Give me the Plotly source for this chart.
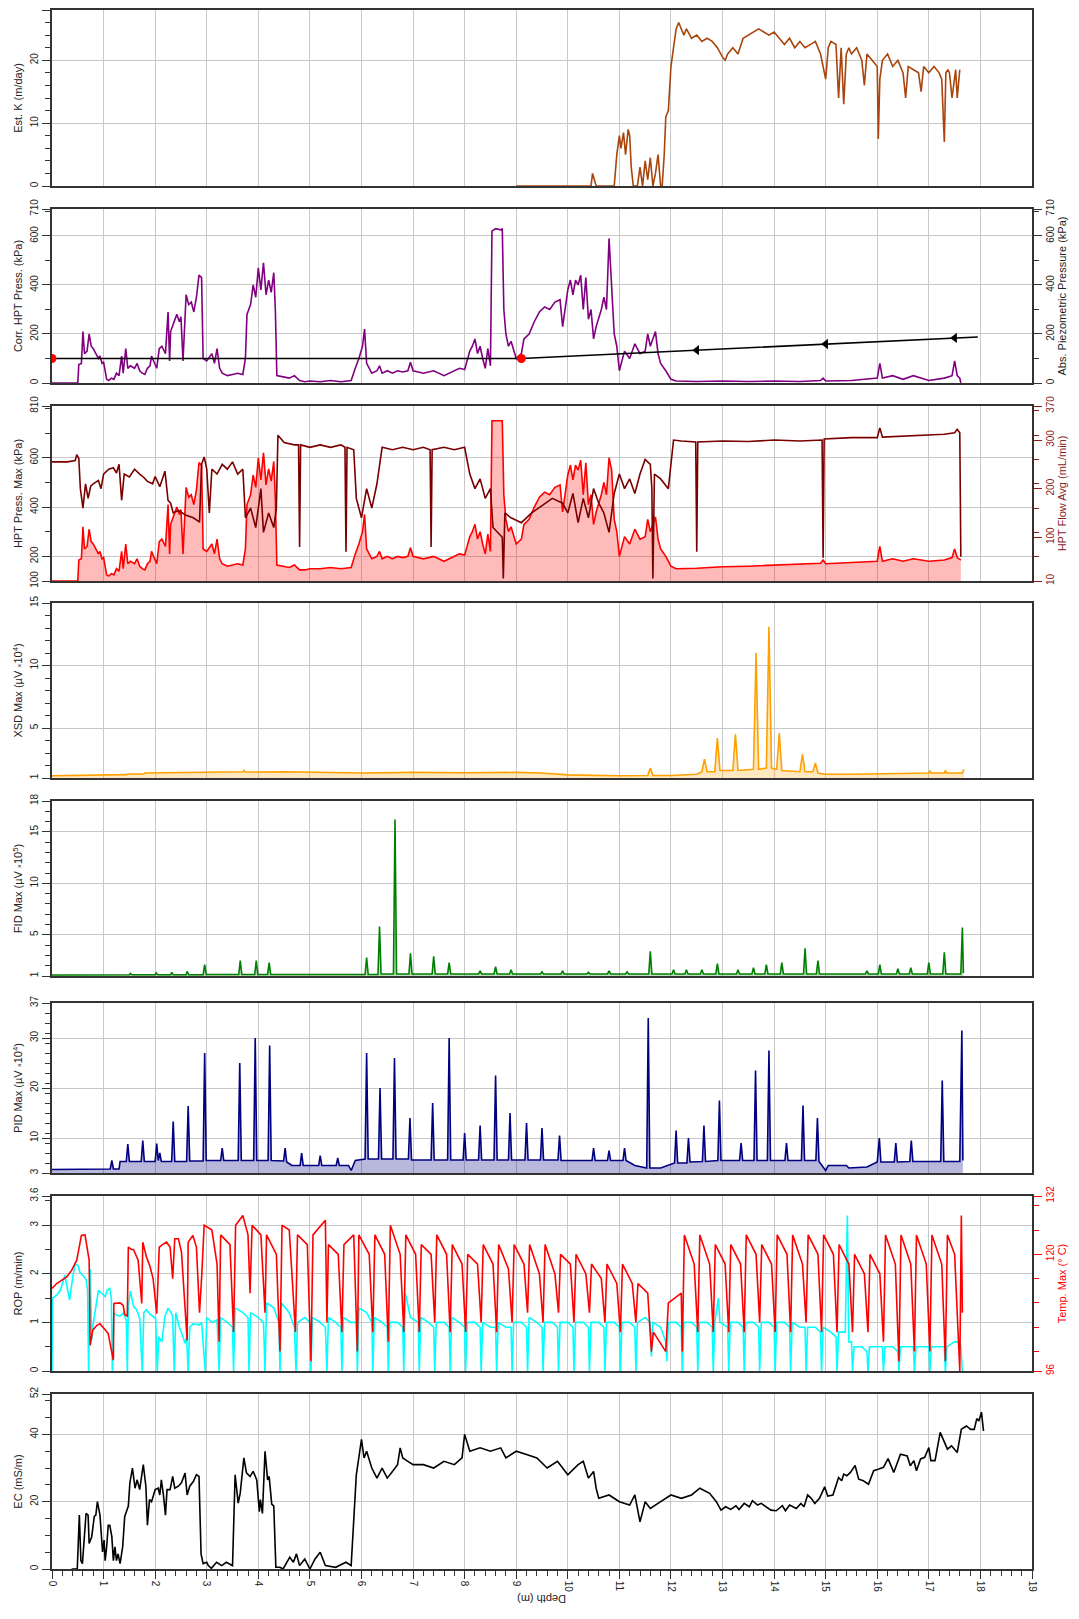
import plotly.graph_objects as go

# ---------------- DATA ----------------
# Est. K (m/day)
K_depth = [9.0, 10.45, 10.48, 10.52, 10.55, 10.9, 10.95, 11.0, 11.03, 11.08,
           11.12, 11.17, 11.2, 11.23, 11.27, 11.35, 11.4, 11.45, 11.5, 11.55,
           11.6, 11.65, 11.7, 11.75, 11.8, 11.83, 11.87, 11.9, 11.95, 12.0,
           12.05, 12.1, 12.15, 12.2, 12.25, 12.3, 12.4, 12.5, 12.6, 12.7,
           12.8, 12.9, 13.0, 13.05, 13.1, 13.2, 13.3, 13.4, 13.5, 13.6,
           13.7, 13.8, 13.9, 14.0, 14.1, 14.2, 14.3, 14.4, 14.5, 14.6,
           14.7, 14.8, 14.9, 14.95, 15.0, 15.05, 15.1, 15.2, 15.25, 15.3,
           15.35, 15.4, 15.45, 15.5, 15.6, 15.7, 15.75, 15.8, 15.9, 16.0,
           16.02, 16.05, 16.1, 16.2, 16.3, 16.4, 16.5, 16.55, 16.6, 16.7,
           16.8, 16.85, 16.9, 17.0, 17.1, 17.2, 17.25, 17.3, 17.33, 17.37,
           17.4, 17.45, 17.5, 17.52, 17.55, 17.6]
K_val = [0, 0, 2, 1, 0, 0, 5, 8, 6, 8.5,
         5, 9, 8, 3, 0, 0, 3, 0, 4, 1,
         4.5, 0, 2, 5, 0, 0, 5, 11, 12, 19,
         22, 25, 26, 25, 24, 25, 23.5, 24, 23, 23.5,
         23, 22, 20.5, 20, 21, 22, 21, 23.5, 24, 24.5,
         25, 24.5, 24, 24.5, 23.5, 22.5, 23.5, 22, 23, 22,
         22.5, 23, 21, 19, 17, 22, 23, 22.5, 14, 22,
         13, 21, 22, 21, 22, 20, 16, 21, 20, 19,
         7.5, 17, 20, 21, 19, 20, 18, 14, 19, 18.5,
         18, 15, 19, 18, 19, 18, 17, 7, 18, 18.5,
         18, 14, 18, 18.5, 14, 18.5]

# Corrected HPT pressure (kPa) and HPT pressure max (kPa), same depth samples
HPT_depth = [0, 0.5, 0.52, 0.57, 0.6, 0.63, 0.68, 0.72, 0.76, 0.8,
             0.85, 0.9, 0.93, 0.97, 1.0, 1.03, 1.06, 1.1, 1.15, 1.2,
             1.25, 1.3, 1.35, 1.38, 1.43, 1.47, 1.52, 1.6, 1.65, 1.7,
             1.75, 1.8, 1.85, 1.9, 1.93, 1.97, 2.03, 2.08, 2.13, 2.2,
             2.25, 2.28, 2.3, 2.35, 2.42, 2.47, 2.5, 2.54, 2.6, 2.65,
             2.7, 2.75, 2.8, 2.85, 2.9, 2.93, 3.0, 3.1, 3.15, 3.2,
             3.25, 3.3, 3.4, 3.5, 3.6, 3.7, 3.75, 3.78, 3.85, 3.9,
             3.95, 4.0, 4.05, 4.1, 4.15, 4.2, 4.25, 4.3, 4.33, 4.36,
             4.5, 4.6, 4.7, 4.8, 4.9, 5.0, 5.2, 5.4, 5.6, 5.8,
             5.88, 5.95, 6.02, 6.06, 6.1, 6.2, 6.3, 6.35, 6.4, 6.5,
             6.6, 6.7, 6.8, 6.9, 6.95, 7.0, 7.2, 7.4, 7.6, 7.8,
             7.9, 8.0, 8.05, 8.1, 8.15, 8.2, 8.25, 8.3, 8.35, 8.4,
             8.45, 8.5, 8.53, 8.6, 8.7, 8.73, 8.76, 8.8, 8.85, 8.9,
             9.0, 9.05, 9.1, 9.15, 9.25, 9.35, 9.45, 9.55, 9.65, 9.75,
             9.85, 9.9, 9.95, 10.0, 10.05, 10.1, 10.15, 10.2, 10.25, 10.3,
             10.35, 10.4, 10.45, 10.5, 10.55, 10.65, 10.7, 10.75, 10.8, 10.85,
             10.9, 10.95, 11.0, 11.1, 11.2, 11.3, 11.4, 11.5, 11.55, 11.6,
             11.7, 11.75, 11.8, 11.9, 12.0, 12.1, 12.5, 13.0, 13.5, 14.0,
             14.5, 14.9, 14.95, 15.0, 15.5, 16.0, 16.03, 16.05, 16.1, 16.3,
             16.5, 16.7, 17.0, 17.3, 17.45, 17.5, 17.55, 17.6, 17.62]
CORR_val = [0, 0, 75, 80, 210, 120, 130, 200, 150, 140,
            120, 100, 110, 80, 85, 40, 15, 10, 20, 15,
            40, 30, 110, 40, 140, 60, 70, 60, 80, 50,
            40, 35, 60, 70, 110, 90, 60, 140, 150, 120,
            290, 90, 210, 240, 280, 250, 270, 90, 360, 320,
            330, 290, 350, 440, 430, 100, 90, 120, 80, 140,
            60, 40, 30, 35, 40, 35, 100, 280, 320, 400,
            350, 470, 380, 490, 360, 420, 370, 450, 300, 30,
            25, 20, 30, 10, 5, 8, 5, 10, 5, 10,
            60, 100, 150, 220, 80, 40, 50, 70, 40, 50,
            40, 50, 45, 50, 85, 50, 40, 50, 30, 50,
            60, 55, 90, 130, 150, 180, 120, 150, 100, 60,
            140, 70, 620, 630, 625, 630, 300, 200, 150, 170,
            100, 110, 120, 180, 200, 250, 290, 310, 300, 330,
            340, 230, 300, 380, 420, 360, 420, 400, 440, 300,
            430, 260, 300, 180, 230, 300, 350, 300, 590, 400,
            200, 150, 50, 130, 100, 160, 120, 130, 200, 150,
            210, 120, 80, 50, 15, 8, 6, 8, 6, 8,
            6, 10, 20, 8, 10, 20, 60, 80, 20, 30,
            15, 30, 10, 20, 30, 90, 30, 20, 0]
PMAX_val = [100, 100, 185, 190, 320, 230, 240, 310, 260, 250,
            230, 210, 220, 190, 195, 150, 125, 120, 130, 125,
            150, 140, 220, 150, 250, 170, 180, 170, 190, 160,
            150, 145, 170, 180, 220, 200, 170, 260, 270, 240,
            410, 210, 330, 360, 400, 370, 390, 210, 480, 440,
            450, 410, 470, 580, 570, 230, 220, 250, 210, 270,
            190, 170, 160, 165, 170, 165, 230, 410, 450, 530,
            480, 600, 510, 620, 490, 555, 505, 585, 435, 165,
            160, 155, 165, 145, 145, 150, 150, 155, 150, 155,
            210, 250, 300, 370, 230, 190, 200, 220, 190, 200,
            190, 200, 195, 200, 235, 200, 190, 200, 180, 200,
            210, 205, 240, 280, 300, 330, 270, 300, 250, 210,
            290, 220, 750, 750, 750, 750, 450, 350, 300, 320,
            250, 260, 270, 330, 350, 400, 440, 460, 450, 480,
            490, 380, 450, 530, 570, 510, 570, 550, 590, 450,
            580, 410, 450, 330, 380, 450, 500, 450, 600, 550,
            350, 300, 200, 280, 250, 310, 270, 280, 350, 300,
            360, 270, 230, 200, 160, 150, 152, 158, 160, 165,
            168, 172, 185, 170, 175, 180, 220, 240, 180, 190,
            180, 190, 180, 185, 195, 230, 195, 190, 185]

# Abs. piezometric pressure (kPa)
PIEZO_depth = [0, 9.1, 17.95]
PIEZO_val = [100, 100, 188]
PIEZO_meas_depth = [0, 9.1]
PIEZO_meas_val = [100, 100]
PIEZO_arrow_depth = [12.5, 15.0, 17.5]
PIEZO_arrow_val = [134, 159, 184]

# HPT flow avg (mL/min)
FLOW_depth = [0, 0.3, 0.45, 0.48, 0.52, 0.55, 0.6, 0.65, 0.7, 0.75,
              0.8, 0.9, 0.95, 1.0, 1.1, 1.19, 1.25, 1.3, 1.35, 1.4,
              1.5, 1.6, 1.7, 1.77, 1.85, 1.95, 2.0, 2.09, 2.19, 2.25,
              2.3, 2.35, 2.45, 2.6, 2.74, 2.86, 2.9, 2.95, 3.0, 3.05,
              3.1, 3.2, 3.3, 3.4, 3.5, 3.6, 3.7, 3.75, 3.85, 3.95,
              4.05, 4.1, 4.2, 4.3, 4.35, 4.38, 4.5, 4.7, 4.78, 4.8,
              4.82, 5.0, 5.2, 5.4, 5.6, 5.68, 5.7, 5.72, 5.85, 5.9,
              6.0, 6.1, 6.2, 6.3, 6.4, 6.6, 6.8, 7.0, 7.2, 7.33,
              7.35, 7.37, 7.6, 7.8, 8.0, 8.1, 8.2, 8.3, 8.4, 8.5,
              8.55, 8.65, 8.73, 8.75, 8.78, 8.9, 9.1, 9.3, 9.5, 9.7,
              9.9, 10.0, 10.1, 10.2, 10.3, 10.4, 10.5, 10.6, 10.7, 10.8,
              10.9, 11.0, 11.1, 11.2, 11.3, 11.4, 11.5, 11.6, 11.63, 11.65,
              11.68, 11.8, 11.95, 12.05, 12.2, 12.48, 12.5, 12.52, 13.0, 13.5,
              14.0, 14.5, 14.93, 14.95, 14.97, 15.5, 16.0, 16.05, 16.1, 16.5,
              17.0, 17.3, 17.5, 17.55, 17.6, 17.62]
FLOW_val = [255, 255, 258, 270, 262, 200, 160, 210, 180, 205,
            210, 217, 200, 230, 240, 243, 232, 250, 176, 230,
            224, 240, 230, 224, 215, 210, 225, 204, 236, 176,
            170, 150, 155, 145, 140, 131, 250, 265, 240, 150,
            240, 230, 250, 240, 255, 230, 240, 140, 160, 120,
            200, 110, 150, 120, 160, 310, 295, 290, 290, 80,
            290, 285, 290, 285, 290, 285, 70, 285, 280, 180,
            140, 200, 160, 210, 285, 280, 285, 280, 285, 280,
            80, 280, 285, 280, 285, 230, 200, 220, 180, 200,
            120, 110, 100, 15, 150, 140, 130, 150, 165, 180,
            170, 150, 190, 130, 180, 140, 200, 170, 150, 110,
            190, 230, 200, 220, 190, 230, 260, 250, 200, 15,
            230, 220, 200, 300, 298, 296, 70, 296, 298, 297,
            300, 298, 300, 58, 302, 305, 305, 325, 306, 308,
            310, 312, 315, 322, 315, 60]

# XSD max (uV x10^4)
XSD_depth = [0, 0.93, 0.95, 1.45, 1.47, 1.78, 1.8, 2.5, 3.0, 3.5,
             3.7, 3.72, 3.75, 4.5, 5.0, 5.5, 6.0, 7.0, 8.0, 9.0,
             9.5, 10.0, 10.5, 11.0, 11.55, 11.6, 11.65, 12.0, 12.5, 12.6,
             12.65, 12.7, 12.85, 12.9, 12.95, 13.2, 13.25, 13.3, 13.6, 13.65,
             13.7, 13.85, 13.9, 13.95, 14.05, 14.1, 14.15, 14.5, 14.55, 14.6,
             14.75, 14.8, 14.85, 15.0, 15.5, 16.0, 16.5, 17.0, 17.02, 17.05,
             17.3, 17.32, 17.35, 17.65, 17.68]
XSD_val = [1.18, 1.2, 1.25, 1.27, 1.32, 1.33, 1.4, 1.42, 1.45, 1.45,
           1.5, 1.6, 1.48, 1.5, 1.45, 1.4, 1.4, 1.45, 1.42, 1.45,
           1.4, 1.25, 1.2, 1.18, 1.2, 1.8, 1.2, 1.2, 1.3, 1.5,
           2.5, 1.5, 1.5, 4.2, 1.6, 1.6, 4.5, 1.6, 1.7, 11.0,
           1.7, 1.8, 13.1, 1.8, 1.7, 4.6, 1.6, 1.5, 2.9, 1.5,
           1.5, 2.2, 1.4, 1.3, 1.3, 1.35, 1.35, 1.4, 1.55, 1.4,
           1.4, 1.6, 1.4, 1.4, 1.7]

# FID max (uV x10^5)
FID_depth = [0, 1.5, 1.52, 1.55, 2.0, 2.02, 2.05, 2.3, 2.32, 2.35,
             2.6, 2.62, 2.65, 2.93, 2.96, 2.99, 3.62, 3.65, 3.68, 3.93,
             3.96, 3.99, 4.18, 4.21, 4.24, 6.07, 6.1, 6.13, 6.32, 6.35,
             6.38, 6.62, 6.65, 6.68, 6.92, 6.95, 6.98, 7.37, 7.4, 7.43,
             7.67, 7.7, 7.73, 8.27, 8.3, 8.33, 8.57, 8.6, 8.63, 8.87,
             8.9, 8.93, 9.47, 9.5, 9.53, 9.87, 9.9, 9.93, 10.37, 10.4,
             10.43, 10.77, 10.8, 10.83, 11.12, 11.15, 11.18, 11.57, 11.6, 11.63,
             12.02, 12.05, 12.08, 12.27, 12.3, 12.33, 12.57, 12.6, 12.63, 12.87,
             12.9, 12.93, 13.27, 13.3, 13.33, 13.57, 13.6, 13.63, 13.82, 13.85,
             13.88, 14.12, 14.15, 14.18, 14.57, 14.6, 14.63, 14.82, 14.85, 14.88,
             15.77, 15.8, 15.83, 16.02, 16.05, 16.08, 16.37, 16.4, 16.43, 16.62,
             16.65, 16.68, 16.97, 17.0, 17.03, 17.27, 17.3, 17.33, 17.62, 17.65,
             17.67]
FID_val = [1.1, 1.12, 1.25, 1.12, 1.12, 1.3, 1.12, 1.12, 1.35, 1.12,
           1.12, 1.45, 1.12, 1.12, 2.1, 1.15, 1.15, 2.5, 1.15, 1.15,
           2.5, 1.15, 1.15, 2.3, 1.15, 1.15, 2.8, 1.15, 1.15, 5.8,
           1.2, 1.2, 16.2, 1.2, 1.2, 3.2, 1.2, 1.2, 2.9, 1.2,
           1.2, 2.3, 1.2, 1.2, 1.5, 1.2, 1.2, 1.9, 1.2, 1.2,
           1.6, 1.2, 1.2, 1.4, 1.2, 1.2, 1.5, 1.2, 1.2, 1.35,
           1.2, 1.2, 1.5, 1.2, 1.2, 1.4, 1.2, 1.2, 3.4, 1.2,
           1.2, 1.6, 1.2, 1.2, 1.6, 1.2, 1.2, 1.6, 1.2, 1.2,
           2.2, 1.2, 1.2, 1.6, 1.2, 1.2, 1.8, 1.2, 1.2, 2.1,
           1.2, 1.2, 2.3, 1.2, 1.2, 3.7, 1.2, 1.2, 2.5, 1.2,
           1.2, 1.5, 1.2, 1.2, 2.1, 1.2, 1.2, 1.7, 1.2, 1.2,
           1.8, 1.2, 1.2, 2.3, 1.2, 1.2, 3.3, 1.2, 1.2, 5.7,
           1.3]

# PID max (uV x10^4)
PID_depth = [0, 1.0, 1.13, 1.16, 1.19, 1.3, 1.32, 1.44, 1.47, 1.5,
             1.73, 1.76, 1.79, 2.0, 2.03, 2.06, 2.09, 2.12, 2.32, 2.35,
             2.38, 2.61, 2.64, 2.67, 2.93, 2.96, 2.99, 3.27, 3.3, 3.33,
             3.61, 3.64, 3.67, 3.91, 3.94, 3.97, 4.19, 4.22, 4.25, 4.49,
             4.52, 4.55, 4.65, 4.81, 4.84, 4.87, 5.17, 5.2, 5.23, 5.51,
             5.54, 5.57, 5.75, 5.8, 5.88, 6.07, 6.1, 6.13, 6.33, 6.36,
             6.39, 6.61, 6.64, 6.67, 6.91, 6.94, 6.97, 7.35, 7.38, 7.41,
             7.67, 7.7, 7.73, 7.97, 8.0, 8.03, 8.27, 8.3, 8.33, 8.57,
             8.6, 8.63, 8.85, 8.88, 8.91, 9.17, 9.2, 9.23, 9.47, 9.5,
             9.53, 9.81, 9.84, 9.87, 10.47, 10.5, 10.53, 10.77, 10.8, 10.83,
             11.07, 11.1, 11.13, 11.3, 11.53, 11.56, 11.59, 11.8, 12.07, 12.1,
             12.13, 12.31, 12.34, 12.37, 12.61, 12.64, 12.67, 12.91, 12.94, 12.97,
             13.33, 13.36, 13.39, 13.61, 13.64, 13.67, 13.87, 13.9, 13.93, 14.21,
             14.24, 14.27, 14.53, 14.56, 14.59, 14.81, 14.84, 14.87, 15.0, 15.05,
             15.4, 15.45, 15.8, 16.0, 16.04, 16.07, 16.33, 16.36, 16.39, 16.63,
             16.66, 16.69, 17.23, 17.26, 17.29, 17.6, 17.64, 17.66]
PID_val = [3.7, 3.7, 3.8, 5.5, 3.8, 3.8, 5.3, 5.3, 8.8, 5.3,
           5.3, 9.5, 5.3, 5.3, 8.9, 5.5, 7.0, 5.3, 5.3, 13.3,
           5.3, 5.3, 16.4, 5.4, 5.4, 27, 5.5, 5.5, 8, 5.5,
           5.5, 25, 5.5, 5.5, 30, 5.5, 5.5, 28.5, 5.5, 5.4,
           8, 5.2, 4.5, 4.5, 7, 4.5, 4.5, 6.5, 4.5, 4.5,
           6, 4.5, 4.5, 3.5, 5.5, 5.8, 27, 5.8, 5.8, 20,
           5.8, 5.8, 26, 5.8, 5.8, 14, 5.6, 5.6, 17, 5.6,
           5.6, 30, 5.6, 5.6, 11, 5.6, 5.6, 12.5, 5.6, 5.6,
           22.5, 5.6, 5.6, 15, 5.6, 5.6, 13, 5.6, 5.6, 12,
           5.6, 5.6, 10.5, 5.5, 5.5, 8, 5.5, 5.5, 7.5, 5.5,
           5.5, 8, 5.5, 4.5, 4, 34, 4, 4, 5, 11.5,
           5, 5, 10, 5.2, 5.3, 12.5, 5.3, 5.5, 17.5, 5.5,
           5.5, 9, 5.5, 5.5, 23.5, 5.5, 5.5, 27.5, 5.5, 5.5,
           9, 5.5, 5.5, 16.5, 5.5, 5.5, 14, 5.3, 3.5, 4.5,
           4.5, 4, 4.2, 5.2, 10, 5.2, 5.2, 9, 5.2, 5.3,
           9.5, 5.3, 5.3, 21.5, 5.3, 5.3, 31.5, 5.5]

# ROP (m/min)
ROP_depth = [0, 0.01, 0.09, 0.16, 0.25, 0.28, 0.34, 0.41, 0.45, 0.51,
             0.54, 0.61, 0.66, 0.69, 0.71, 0.74, 0.77, 0.79, 0.86, 0.9,
             0.96, 1.03, 1.07, 1.12, 1.15, 1.17, 1.2, 1.25, 1.32, 1.38,
             1.44, 1.46, 1.48, 1.52, 1.58, 1.64, 1.7, 1.75, 1.78, 1.83,
             1.9, 1.96, 2.01, 2.04, 2.07, 2.13, 2.19, 2.25, 2.31, 2.34,
             2.37, 2.4, 2.47, 2.54, 2.58, 2.61, 2.64, 2.67, 2.73, 2.86,
             2.9, 2.97, 3.0, 3.1, 3.2, 3.24, 3.27, 3.4, 3.5, 3.52,
             3.55, 3.7, 3.8, 3.82, 3.85, 4.0, 4.1, 4.13, 4.16, 4.3,
             4.4, 4.42, 4.45, 4.6, 4.7, 4.73, 4.76, 4.9, 5.0, 5.02,
             5.05, 5.2, 5.3, 5.33, 5.36, 5.5, 5.6, 5.62, 5.65, 5.8,
             5.9, 5.92, 5.95, 6.1, 6.2, 6.22, 6.25, 6.4, 6.5, 6.52,
             6.55, 6.7, 6.8, 6.82, 6.85, 6.95, 7.1, 7.12, 7.15, 7.3,
             7.4, 7.42, 7.45, 7.6, 7.7, 7.72, 7.75, 7.9, 8.0, 8.02,
             8.05, 8.2, 8.3, 8.32, 8.35, 8.5, 8.6, 8.62, 8.65, 8.8,
             8.9, 8.92, 8.95, 9.1, 9.2, 9.22, 9.25, 9.4, 9.5, 9.52,
             9.55, 9.7, 9.8, 9.82, 9.85, 10.0, 10.1, 10.12, 10.15, 10.3,
             10.4, 10.42, 10.45, 10.6, 10.7, 10.72, 10.75, 10.9, 11.0, 11.02,
             11.05, 11.2, 11.3, 11.32, 11.35, 11.5, 11.6, 11.62, 11.65, 11.8,
             11.9, 11.92, 11.95, 12.1, 12.2, 12.22, 12.25, 12.4, 12.5, 12.52,
             12.55, 12.7, 12.8, 12.82, 12.85, 12.92, 12.95, 13.1, 13.12, 13.15,
             13.3, 13.4, 13.42, 13.45, 13.6, 13.7, 13.72, 13.75, 13.9, 14.0,
             14.02, 14.05, 14.2, 14.3, 14.32, 14.35, 14.5, 14.6, 14.62, 14.65,
             14.8, 14.9, 14.92, 14.95, 15.1, 15.2, 15.22, 15.25, 15.38, 15.42,
             15.45, 15.5, 15.52, 15.55, 15.7, 15.8, 15.82, 15.85, 16.0, 16.1,
             16.12, 16.15, 16.3, 16.4, 16.42, 16.45, 16.6, 16.7, 16.72, 16.75,
             16.9, 17.0, 17.02, 17.05, 17.2, 17.3, 17.32, 17.35, 17.5, 17.6,
             17.62, 17.65]
ROP_val = [0, 1.5, 1.56, 1.66, 1.97, 1.8, 1.46, 1.98, 2.2, 2.17,
           2.03, 1.95, 1.88, 1.66, 0, 2.1, 0.64, 0.91, 1.4, 1.66,
           1.6, 1.53, 1.66, 1.7, 1.5, 0, 1.19, 1.15, 1.13, 1.19,
           1.05, 0, 1.33, 1.65, 1.33, 1.26, 1.08, 0, 1.2, 1.26,
           1.17, 1.12, 1.08, 0, 0.7, 0.6, 1.12, 1.29, 1.2, 1.12,
           0, 1.2, 0.9, 0.7, 0.57, 0.7, 0, 0.9, 0.97, 0.95,
           1.0, 0, 1.1, 1.0, 1.05, 0, 1.1, 1.0, 0.9, 0,
           1.3, 1.2, 1.1, 0, 1.2, 1.1, 1.0, 0, 1.4, 1.3,
           1.0, 0, 1.4, 1.2, 0.9, 0, 1.0, 1.1, 1.0, 0,
           1.1, 1.0, 0.9, 0, 1.1, 1.0, 0.9, 0, 1.1, 1.0,
           1.0, 0, 1.3, 1.2, 1.0, 0, 1.1, 1.0, 0.9, 0,
           1.0, 1.0, 0.9, 0, 1.6, 1.1, 1.0, 0, 1.1, 1.0,
           0.9, 0, 1.0, 1.0, 0.9, 0, 1.1, 1.0, 0.9, 0,
           1.0, 1.0, 0.9, 0, 1.0, 0.9, 0.9, 0, 1.0, 0.9,
           0.9, 0, 1.0, 1.0, 0.9, 0, 1.1, 1.0, 0.9, 0,
           1.0, 1.0, 0.9, 0, 1.0, 1.0, 0.9, 0, 1.0, 1.0,
           0.9, 0, 1.0, 1.0, 0.9, 0, 1.0, 1.0, 0.9, 0,
           1.0, 1.0, 0.9, 0, 1.0, 1.1, 1.0, 0.3, 1.0, 0.9,
           0.6, 0.2, 1.0, 1.0, 0.9, 0, 1.0, 1.0, 0.9, 0,
           1.0, 1.0, 0.9, 0, 1.0, 1.5, 1.0, 0.9, 0, 1.0,
           1.0, 0.9, 0, 1.0, 1.0, 0.9, 0, 1.0, 1.0, 0.9,
           0, 1.0, 1.0, 0.9, 0, 1.0, 0.9, 0.9, 0, 0.9,
           0.9, 0.8, 0, 0.9, 0.8, 0.7, 0, 0.8, 0.8, 3.2,
           0.6, 0.6, 0, 0.5, 0.5, 0.4, 0, 0.5, 0.5, 0.5,
           0, 0.5, 0.5, 0.4, 0, 0.5, 0.5, 0.5, 0, 0.5,
           0.5, 0.5, 0, 0.5, 0.5, 0.5, 0, 0.5, 0.6, 0.6,
           0.5, 0]

# Temp. max (deg C)
TEMP_depth = [0, 0.09, 0.28, 0.38, 0.48, 0.57, 0.64, 0.68, 0.72, 0.74,
              0.79, 0.87, 0.93, 1.03, 1.09, 1.12, 1.19, 1.2, 1.32, 1.38,
              1.41, 1.46, 1.48, 1.54, 1.58, 1.67, 1.7, 1.74, 1.76, 1.83,
              1.9, 1.96, 2.03, 2.08, 2.13, 2.22, 2.29, 2.34, 2.38, 2.45,
              2.51, 2.58, 2.62, 2.64, 2.73, 2.8, 2.86,
              2.9, 2.95, 3.1, 3.2, 3.24, 3.27, 3.45, 3.52, 3.56, 3.7,
              3.8, 3.84, 3.88, 4.05, 4.13, 4.16, 4.35, 4.42, 4.46, 4.6,
              4.72, 4.76, 4.95, 5.02, 5.06, 5.3, 5.33, 5.36, 5.55, 5.62,
              5.66, 5.85, 5.92, 5.95, 6.15, 6.22, 6.26, 6.45, 6.52, 6.56,
              6.75, 6.82, 6.86, 7.05, 7.12, 7.16, 7.35, 7.42, 7.46, 7.65,
              7.72, 7.76, 7.95, 8.02, 8.06, 8.25, 8.32, 8.36, 8.55, 8.62,
              8.66, 8.85, 8.92, 8.96, 9.15, 9.22, 9.26, 9.45, 9.52, 9.56,
              9.75, 9.82, 9.86, 10.05, 10.12, 10.16, 10.35, 10.42, 10.46, 10.65,
              10.72, 10.76, 10.95, 11.02, 11.06, 11.25, 11.32, 11.36, 11.55, 11.62,
              11.66, 11.9, 11.95, 12.2, 12.22, 12.26, 12.45, 12.52, 12.56, 12.75,
              12.82, 12.86, 13.05, 13.12, 13.16, 13.35, 13.42, 13.46, 13.65, 13.72,
              13.76, 13.95, 14.02, 14.06, 14.25, 14.32, 14.36, 14.55, 14.62, 14.66,
              14.85, 14.92, 14.96, 15.15, 15.22, 15.26, 15.45, 15.52, 15.56, 15.75,
              15.82, 15.86, 16.05, 16.12, 16.16, 16.35, 16.42, 16.46, 16.65, 16.72,
              16.76, 16.95, 17.02, 17.06, 17.25, 17.32, 17.36, 17.5, 17.6, 17.63,
              17.65]
TEMP_val = [113, 114, 115.3, 116.7, 118.8, 123.9, 124, 121.5, 118.8, 101.3,
            104.4, 105.4, 105.7, 104.5, 103.7, 102, 98.2, 109.9, 110, 109.5,
            107.6, 107.3, 121.5, 121, 121, 118.8, 114.6, 109.9, 122.5, 119.5,
            117.5, 115, 107.8, 121.5, 121.9, 122.5, 121.5, 115, 123.2, 123.2,
            120.5, 110, 102.3, 122.5, 123.9, 121.5, 108,
            115, 126, 125, 118, 102, 124, 122, 104, 126, 128,
            124, 112, 126, 124, 108, 124, 120, 100, 126, 125,
            104, 124, 122, 98, 124, 127, 106, 122, 120, 104,
            122, 124, 100, 124, 120, 104, 124, 120, 102, 126,
            120, 104, 124, 120, 104, 122, 120, 106, 124, 120,
            104, 122, 118, 104, 120, 118, 106, 122, 118, 104,
            122, 117, 106, 122, 118, 108, 122, 116, 106, 122,
            116, 108, 120, 118, 106, 120, 116, 108, 118, 115,
            106, 118, 114, 104, 118, 114, 106, 114, 112, 100,
            104, 100, 110, 112, 100, 124, 118, 104, 124, 118,
            104, 122, 118, 104, 122, 118, 104, 124, 120, 106,
            122, 118, 104, 124, 120, 104, 124, 118, 106, 124,
            120, 104, 124, 120, 104, 122, 118, 104, 120, 116,
            104, 120, 116, 102, 124, 118, 98, 124, 118, 100,
            124, 118, 100, 124, 118, 98, 124, 120, 96, 128,
            108]

# EC (mS/m)
EC_depth = [0.38, 0.49, 0.53, 0.56, 0.59, 0.63, 0.66, 0.7, 0.72, 0.77,
            0.82, 0.85, 0.88, 0.93, 0.96, 0.98, 1.01, 1.03, 1.06, 1.09,
            1.12, 1.16, 1.19, 1.22, 1.25, 1.28, 1.32, 1.37, 1.41, 1.48,
            1.51, 1.56, 1.61, 1.65, 1.7, 1.77, 1.82, 1.85, 1.89, 1.93,
            2.0, 2.06, 2.09, 2.12, 2.16, 2.2, 2.23, 2.29, 2.34, 2.38,
            2.45, 2.51, 2.58, 2.62, 2.67, 2.74, 2.8, 2.85, 2.89, 2.93,
            3.0, 3.03, 3.09, 3.19, 3.29, 3.38, 3.5, 3.55, 3.61, 3.65,
            3.72, 3.77, 3.84, 3.9, 3.97, 4.02, 4.04, 4.08, 4.13, 4.18,
            4.21, 4.26, 4.3, 4.34, 4.42, 4.48, 4.61, 4.68, 4.74, 4.8,
            4.9, 5.0, 5.1, 5.2, 5.3, 5.5, 5.7, 5.8, 5.9, 6.0,
            6.05, 6.1, 6.2, 6.3, 6.4, 6.5, 6.6, 6.7, 6.75, 6.8,
            6.9, 7.0, 7.2, 7.4, 7.6, 7.8, 7.95, 8.0, 8.1, 8.3,
            8.5, 8.7, 8.8, 9.0, 9.2, 9.4, 9.6, 9.8, 10.0, 10.2,
            10.3, 10.4, 10.5, 10.55, 10.6, 10.8, 11.0, 11.2, 11.3, 11.4,
            11.5, 11.6, 11.8, 12.0, 12.2, 12.4, 12.56, 12.75, 12.88, 12.97,
            13.06, 13.16, 13.26, 13.32, 13.42, 13.52, 13.58, 13.68, 13.75, 13.84,
            13.94, 14.04, 14.16, 14.22, 14.3, 14.43, 14.52, 14.58, 14.65, 14.72,
            14.79, 14.88, 14.98, 15.04, 15.14, 15.25, 15.31, 15.35, 15.41, 15.48,
            15.57, 15.64, 15.73, 15.83, 15.93, 16.03, 16.12, 16.21, 16.32, 16.45,
            16.58, 16.64, 16.71, 16.76, 16.84, 16.92, 17.0, 17.04, 17.12, 17.22,
            17.3, 17.36, 17.44, 17.55, 17.63, 17.73, 17.81, 17.88, 17.93, 17.97,
            18.02, 18.06]
EC_val = [0, 0, 16, 2.5, 1.6, 10.6, 16.5, 16, 7.6, 9.6,
          15.6, 16, 20, 16, 10.6, 5.1, 8.6, 2.5, 6.6, 13,
          13, 9.6, 2.5, 6.6, 2.5, 4.5, 1.6, 6.6, 15.6, 18.7,
          25.6, 30, 24, 26.5, 23.6, 31, 24.6, 13, 20.6, 20,
          23.6, 24, 22, 26.5, 22, 16, 23.6, 23.6, 27.5, 24,
          24.6, 25.6, 28.5, 22, 24.6, 26, 28, 27.5, 4.5, 1.6,
          2, 1, 0.2, 2, 1, 2, 1, 28, 19.6, 22.6,
          33, 28.6, 27.5, 29, 26.5, 17, 20.6, 16.5, 35, 26.5,
          27.5, 19.3, 18.7, 0.5, 0.5, 0, 3.5, 2, 4.5, 1,
          3, 0, 3, 5, 1, 0.5, 2, 1, 28, 38.5,
          33, 35, 30, 27, 30, 27, 29, 31, 36, 33,
          32, 31, 31, 30, 32, 31, 33, 40, 35, 36,
          35, 36, 33, 35, 34, 33, 30, 32, 28, 31,
          32, 27, 29, 24, 21, 22, 20, 19, 22, 14,
          20, 18, 20, 22, 21, 22, 24, 22.5, 20, 17.5,
          18.5, 17.7, 18.8, 17.7, 19.5, 18.5, 20.3, 19, 19.5, 18.5,
          17.5, 17.3, 18.8, 17.3, 19, 18, 19.5, 18.5, 22, 21,
          19.5, 21, 24.4, 21.7, 22, 27.2, 26.2, 28.2, 27.7, 28.7,
          30.8, 26.7, 26.2, 25.2, 29.2, 29.7, 30.2, 32.8, 28.7, 34.1,
          33.6, 30.7, 32.2, 29.2, 32.7, 33.2, 36.1, 32.2, 32.2, 40.6,
          37.6, 35.6, 36.6, 34.6, 41.5, 42.5, 41.5, 41.5, 44.7, 44,
          46.6, 41]

# Axis tick values
X_TICKS = list(range(0, 20))
K_TICKS = [0, 10, 20, 28]
CORR_TICKS = [0, 200, 400, 600, 710]
PMAX_TICKS = [100, 200, 400, 600, 810]
FLOW_TICKS = [10, 100, 200, 300, 370]
XSD_TICKS = [1, 5, 10, 15]
FID_TICKS = [1, 5, 10, 15, 18]
PID_TICKS = [3, 10, 20, 30, 37]
ROP_TICKS = [0, 1, 2, 3, 3.6]
TEMP_TICKS = [96, 120, 132]
EC_TICKS = [0, 20, 40, 52]

# ---------------- STYLE ----------------
FONT = "Liberation Sans, Arial, sans-serif"
AX = "#333333"
GRID = "#c8c8c8"
TICKFONT = dict(family=FONT, size=10, color="#222")
DARKRED = "#8B1A1A"

PAGE_TOP, PAGE_BOT = 10, 1569
def dom(top, bot):
    return [(PAGE_BOT - bot) / (PAGE_BOT - PAGE_TOP), (PAGE_BOT - top) / (PAGE_BOT - PAGE_TOP)]

DOMAINS = [dom(10, 186), dom(209, 383), dom(406, 581), dom(603, 778),
           dom(801, 976), dom(1003, 1173), dom(1196, 1371), dom(1394, 1569)]

def minor_vals(lo, hi, step, majors):
    out = []
    v = lo
    while v <= hi + 1e-9:
        if all(abs(v - m) > 1e-6 for m in majors):
            out.append(round(v, 6))
        v += step
    return out

fig = go.Figure()

def line(x, y, xa, ya, color, width=1.6, fill=None, fillcolor=None):
    fig.add_trace(go.Scatter(x=x, y=y, xaxis=xa, yaxis=ya, mode="lines",
                             line=dict(color=color, width=width, shape="linear"),
                             fill=fill, fillcolor=fillcolor,
                             hoverinfo="skip", showlegend=False))

line(K_depth, K_val, "x", "y", "#A8450C")
line(HPT_depth, CORR_val, "x2", "y2", "#800080")
fig.add_trace(go.Scatter(x=PIEZO_depth, y=PIEZO_val, xaxis="x2", yaxis="y9", mode="lines",
                         line=dict(color="black", width=1.6), hoverinfo="skip", showlegend=False))
fig.add_trace(go.Scatter(x=PIEZO_arrow_depth, y=PIEZO_arrow_val, xaxis="x2", yaxis="y9", mode="markers",
                         marker=dict(symbol="triangle-left", size=9, color="black"),
                         hoverinfo="skip", showlegend=False))
fig.add_trace(go.Scatter(x=PIEZO_meas_depth, y=PIEZO_meas_val, xaxis="x2", yaxis="y9", mode="markers",
                         marker=dict(symbol="circle", size=9, color="red"),
                         hoverinfo="skip", showlegend=False))
line(HPT_depth, PMAX_val, "x3", "y3", "red", width=1.6, fill="tozeroy", fillcolor="rgba(255,0,0,0.27)")
line(FLOW_depth, FLOW_val, "x3", "y10", "#7A0000", width=1.6)
line(XSD_depth, XSD_val, "x4", "y4", "#FFA000", width=1.6, fill="tozeroy", fillcolor="rgba(255,165,0,0.25)")
line(FID_depth, FID_val, "x5", "y5", "#008000", width=1.6, fill="tozeroy", fillcolor="rgba(0,128,0,0.25)")
line(PID_depth, PID_val, "x6", "y6", "#000080", width=1.6, fill="tozeroy", fillcolor="rgba(0,0,128,0.28)")
line(ROP_depth, ROP_val, "x7", "y7", "#00FFFF", width=1.6)
line(TEMP_depth, TEMP_val, "x7", "y11", "#FF0000", width=1.6)
line(EC_depth, EC_val, "x8", "y8", "black", width=1.6)

layout = dict(
    width=1071, height=1611,
    margin=dict(l=44, r=47, t=2, b=50, autoexpand=False),
    paper_bgcolor="white", plot_bgcolor="white",
    font=dict(family=FONT, size=10, color="#222"),
    showlegend=False,
)

for i in range(1, 9):
    key = "xaxis" if i == 1 else f"xaxis{i}"
    ax = dict(domain=[0, 1], range=[0, 19], anchor=("y" if i == 1 else f"y{i}"),
              showline=True, linecolor=AX, linewidth=1.5, mirror=True,
              showgrid=True, gridcolor=GRID, gridwidth=1, automargin=False,
              tickmode="array", tickvals=X_TICKS, zeroline=False)
    if i != 1:
        ax["matches"] = "x"
    if i == 8:
        ax.update(ticks="outside", ticklen=8, tickwidth=1.2, tickcolor=AX,
                  showticklabels=True, tickangle=90, tickfont=TICKFONT,
                  minor=dict(tickmode="linear", tick0=0, dtick=0.2, ticks="outside",
                             ticklen=5, tickwidth=1, tickcolor=AX, showgrid=False))
    else:
        ax.update(ticks="", showticklabels=False)
    layout[key] = ax

def yaxis(i, rng, ticks, mstep, title, side="left", color="#222", tickc=AX,
          overlaying=None, mirror=True, grid=True):
    ax = dict(range=rng, tickmode="array", tickvals=ticks, ticktext=[str(t) for t in ticks],
              showline=True, linecolor=AX, linewidth=1.5, mirror=mirror, automargin=False,
              ticks="outside", ticklen=8, tickwidth=1.2, tickcolor=tickc,
              tickangle=-90, tickfont=dict(family=FONT, size=10, color=color),
              showgrid=grid, gridcolor=GRID, gridwidth=1, zeroline=False,
              title=dict(text=title, font=dict(family=FONT, size=11, color=color), standoff=4),
              side=side,
              minor=dict(tickmode="array", tickvals=minor_vals(rng[0], rng[1], mstep, ticks),
                         ticks="outside", ticklen=5, tickwidth=1, tickcolor=tickc, showgrid=False))
    if overlaying:
        ax.update(overlaying=overlaying, anchor=overlaying.replace("y", "x"))
    else:
        ax.update(domain=DOMAINS[i - 1], anchor=("x" if i == 1 else f"x{i}"))
    return ax

layout["yaxis"] = yaxis(1, [0, 28], K_TICKS, 2, "Est. K (m/day)")
layout["yaxis2"] = yaxis(2, [0, 710], CORR_TICKS, 100, "Corr. HPT Press. (kPa)", mirror=False)
layout["yaxis3"] = yaxis(3, [100, 810], PMAX_TICKS, 100, "HPT Press. Max (kPa)", mirror=False)
layout["yaxis4"] = yaxis(4, [1, 15], XSD_TICKS, 1,
                         "XSD Max (µV <span style='font-size:7px'>×</span>10<sup>4</sup>)")
layout["yaxis5"] = yaxis(5, [1, 18], FID_TICKS, 1,
                         "FID Max (µV <span style='font-size:7px'>×</span>10<sup>5</sup>)")
layout["yaxis6"] = yaxis(6, [3, 37], PID_TICKS, 2,
                         "PID Max (µV <span style='font-size:7px'>×</span>10<sup>4</sup>)")
layout["yaxis7"] = yaxis(7, [0, 3.6], ROP_TICKS, 0.5, "ROP (m/min)", mirror=False)
layout["yaxis8"] = yaxis(8, [0, 52], EC_TICKS, 5, "EC (mS/m)")
layout["yaxis9"] = yaxis(2, [0, 710], CORR_TICKS, 100, "Abs. Piezometric Pressure (kPa)",
                         side="right", overlaying="y2", mirror=False, grid=False)
layout["yaxis10"] = yaxis(3, [10, 370], FLOW_TICKS, 50, "HPT Flow Avg (mL/min)", side="right",
                          color=DARKRED, tickc=DARKRED, overlaying="y3", mirror=False, grid=False)
layout["yaxis11"] = yaxis(7, [96, 132], TEMP_TICKS, 5, "Temp. Max (° C)", side="right",
                          color="#FF0000", tickc="#FF0000", overlaying="y7", mirror=False, grid=False)
layout["yaxis11"]["minor"]["tickvals"] = [100, 105, 110, 115, 125, 130]

layout["annotations"] = [dict(text="Depth (m)", xref="paper", yref="paper", x=0.5, y=-0.0245,
                              showarrow=False, textangle=180,
                              font=dict(family=FONT, size=11, color="#222"))]

fig.update_layout(**layout)
fig.write_html("out.html")
